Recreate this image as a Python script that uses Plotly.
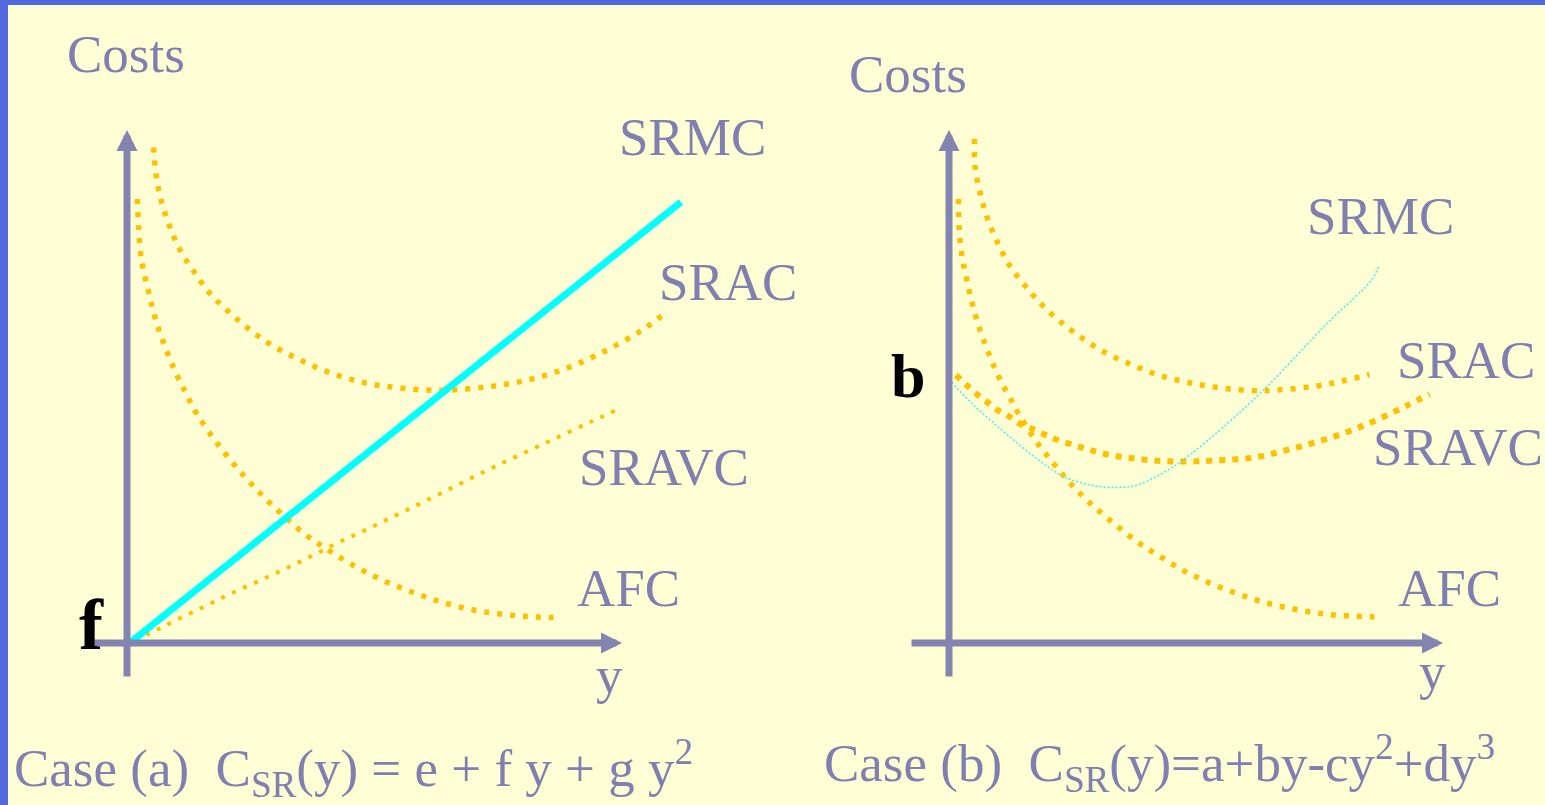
import plotly.graph_objects as go

# ---------------- data (quantity y, cost) ----------------
# Case (a)
afc_a_q = [0.21, 0.23, 0.27, 0.31, 0.43, 0.56, 0.73, 0.93, 1.16, 1.41, 1.86, 2.36, 2.86, 3.54, 3.98, 4.43, 4.89, 5.39, 5.89, 6.39, 6.93, 7.46, 7.99, 8.53]
afc_a_c = [8.88, 8.34, 7.81, 7.55, 7.03, 6.51, 6.01, 5.51, 5.03, 4.56, 3.92, 3.32, 2.80, 2.19, 1.89, 1.61, 1.36, 1.14, 0.95, 0.79, 0.66, 0.58, 0.53, 0.51]

srac_a_q = [0.53, 0.58, 0.68, 0.85, 1.06, 1.35, 1.66, 2.05, 2.46, 2.89, 3.36, 3.84, 4.35, 4.87, 5.39, 5.93, 6.46, 7.26, 8.06, 8.83, 9.56, 10.26, 10.69]
srac_a_c = [9.91, 9.38, 8.86, 8.34, 7.86, 7.41, 6.99, 6.61, 6.26, 5.96, 5.71, 5.49, 5.31, 5.18, 5.11, 5.06, 5.06, 5.13, 5.27, 5.51, 5.84, 6.23, 6.54]

sravc_a_q = [0.16, 0.61, 1.09, 1.57, 2.06, 2.79, 3.53, 4.23, 4.96, 5.66, 6.39, 7.11, 7.83, 8.56, 9.29, 9.79]
sravc_a_c = [0.06, 0.27, 0.51, 0.74, 0.98, 1.31, 1.66, 2.01, 2.35, 2.69, 3.05, 3.41, 3.75, 4.09, 4.43, 4.66]

srmc_a_q = [0.09, 11.08]
srmc_a_c = [0.03, 8.82]

# Case (b)
afc_b_q = [0.19, 0.20, 0.25, 0.35, 0.47, 0.62, 0.81, 1.02, 1.27, 1.40, 1.69, 2.01, 2.35, 2.72, 3.12, 3.74, 4.19, 4.65, 5.12, 5.62, 6.14, 6.65, 7.17, 7.71, 8.51]
afc_b_c = [8.88, 8.34, 7.81, 7.29, 6.77, 6.26, 5.75, 5.27, 4.81, 4.57, 4.11, 3.69, 3.28, 2.89, 2.54, 2.04, 1.75, 1.47, 1.24, 1.04, 0.86, 0.73, 0.63, 0.56, 0.52]

srac_b_q = [0.51, 0.52, 0.62, 0.77, 0.97, 1.22, 1.55, 1.91, 2.31, 2.73, 3.20, 3.69, 4.19, 4.70, 5.22, 6.02, 6.55, 7.35, 7.87, 8.41]
srac_b_c = [10.08, 9.54, 9.01, 8.49, 8.01, 7.54, 7.11, 6.71, 6.36, 6.05, 5.77, 5.55, 5.36, 5.23, 5.13, 5.05, 5.06, 5.14, 5.24, 5.37]

sravc_b_q = [0.14, 0.34, 0.54, 0.75, 0.95, 1.19, 1.41, 1.67, 1.91, 2.15, 2.65, 3.17, 3.71, 4.24, 4.77, 5.31, 6.11, 6.87, 7.65, 8.39, 9.14, 9.61]
sravc_b_c = [5.36, 5.17, 4.99, 4.83, 4.67, 4.54, 4.39, 4.28, 4.17, 4.07, 3.91, 3.77, 3.69, 3.64, 3.63, 3.65, 3.71, 3.89, 4.11, 4.39, 4.74, 4.98]

srmc_b_q = [0.0, 0.49, 1.09, 1.75, 2.29, 2.82, 3.35, 3.79, 4.49, 5.22, 6.29, 7.55, 8.45, 8.59]
srmc_b_c = [5.27, 4.76, 4.23, 3.69, 3.33, 3.16, 3.11, 3.17, 3.53, 4.09, 5.06, 6.38, 7.26, 7.53]

# axis extents (data units)
axis_q = [-0.68, 9.9]
axis_q_b = [-0.78, 9.88]
axis_c = [-0.7, 10.26]

curve_names = ["SRMC", "SRAC", "SRAVC", "AFC"]
captions = ["Case (a)\u00a0\u00a0C<sub>SR</sub>(y) = e + f y + g y<sup>2</sup>",
            "Case (b)\u00a0\u00a0C<sub>SR</sub>(y)=a+by-cy<sup>2</sup>+dy<sup>3</sup>"]

# ---------------- style ----------------
W, H = 1545, 805
BG = "#FFFFD5"
BLUE = "#5468DE"
TXT = "#8080B0"
AXC = "#8484B0"
ORANGE = "#FFC000"
CYAN = "#00FFFF"
FONT = "Liberation Serif"

fig = go.Figure()

def dotted(q, c, xa, ya, width=5.5, dash="5px,8px", color=ORANGE):
    fig.add_trace(go.Scatter(x=q, y=c, xaxis=xa, yaxis=ya, mode="lines",
                             line=dict(color=color, width=width, dash=dash, shape="spline", smoothing=1.0),
                             hoverinfo="skip", showlegend=False))

# panel a
dotted(afc_a_q, afc_a_c, "x", "y")
dotted(srac_a_q, srac_a_c, "x", "y")
dotted(sravc_a_q, sravc_a_c, "x", "y", width=4, dash="4px,8px")
fig.add_trace(go.Scatter(x=srmc_a_q, y=srmc_a_c, xaxis="x", yaxis="y", mode="lines",
                         line=dict(color=CYAN, width=7), hoverinfo="skip", showlegend=False))
# panel b
dotted(afc_b_q, afc_b_c, "x2", "y2")
dotted(srac_b_q, srac_b_c, "x2", "y2")
dotted(sravc_b_q, sravc_b_c, "x2", "y2", width=6, dash="6px,7px")
fig.add_trace(go.Scatter(x=srmc_b_q, y=srmc_b_c, xaxis="x2", yaxis="y2", mode="lines",
                         line=dict(color="#40F0F0", width=1.5, dash="2px,2px", shape="spline"),
                         hoverinfo="skip", showlegend=False))

ann = []
# axis arrows
for xr, yr, qext in (("x", "y", axis_q), ("x2", "y2", axis_q_b)):
    ann.append(dict(x=0, y=axis_c[1], ax=0, ay=axis_c[0], xref=xr, yref=yr, axref=xr, ayref=yr,
                    showarrow=True, arrowhead=2, arrowsize=0.6, arrowwidth=7, arrowcolor=AXC,
                    text="", standoff=0))
    ann.append(dict(x=qext[1], y=0, ax=qext[0], ay=0, xref=xr, yref=yr, axref=xr, ayref=yr,
                    showarrow=True, arrowhead=2, arrowsize=0.6, arrowwidth=7, arrowcolor=AXC,
                    text="", standoff=0))

def label(text, px, py, size=53, color=TXT, xanchor="center", bold=False, family=FONT):
    if bold:
        text = "<b>" + text + "</b>"
    ann.append(dict(text=text, x=px / W, y=1 - py / H, xref="paper", yref="paper",
                    xanchor=xanchor, yanchor="middle", showarrow=False,
                    font=dict(family=family, size=size, color=color)))

# panel a labels
label("Costs", 126, 54)
label(curve_names[0], 692, 137)
label(curve_names[1], 728, 282)
label(curve_names[2], 664, 467)
label(curve_names[3], 628, 588)
label("y", 609, 675)
label("f", 91, 625, size=72, color="#000000", bold=True)
label(captions[0], 12, 768, xanchor="left")
# panel b labels
label("Costs", 908, 74)
label(curve_names[0], 1380, 216)
label(curve_names[1], 1466, 360)
label(curve_names[2], 1458, 447)
label(curve_names[3], 1449, 588)
label("y", 1432, 671)
label("b", 908, 376, size=62, color="#000000", bold=True)
label(captions[1], 822, 763, xanchor="left")

shapes = [
    dict(type="rect", xref="paper", yref="paper", x0=0, x1=8 / W, y0=0, y1=1,
         fillcolor=BLUE, line=dict(width=0), layer="above"),
    dict(type="rect", xref="paper", yref="paper", x0=0, x1=1, y0=1 - 5 / H, y1=1,
         fillcolor=BLUE, line=dict(width=0), layer="above"),
]

S = 50.0  # pixels per data unit
ax_common = dict(visible=False, fixedrange=True, showgrid=False, zeroline=False)
fig.update_layout(
    width=W, height=H, margin=dict(l=0, r=0, t=0, b=0),
    paper_bgcolor=BG, plot_bgcolor="rgba(0,0,0,0)",
    showlegend=False,
    xaxis=dict(domain=[0, 0.5], range=[-127 / S, (772.5 - 127) / S], **ax_common),
    yaxis=dict(domain=[0, 1], range=[(643 - 805) / S, 643 / S], anchor="x", **ax_common),
    xaxis2=dict(domain=[0.5, 1], range=[(772.5 - 949) / S, (1545 - 949) / S], anchor="y2", **ax_common),
    yaxis2=dict(domain=[0, 1], range=[(643 - 805) / S, 643 / S], anchor="x2", **ax_common),
    annotations=ann, shapes=shapes,
)

fig.write_html("out.html", config={"displayModeBar": False},
               post_script="document.body.style.margin='0';document.body.style.padding='0';"
                           "document.body.style.overflow='hidden';")
